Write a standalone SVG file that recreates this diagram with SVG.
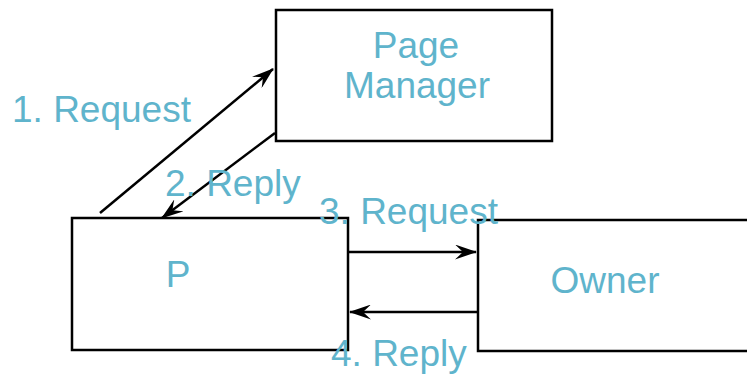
<svg xmlns="http://www.w3.org/2000/svg" width="747" height="374" viewBox="0 0 747 374">
<style>
.box{fill:#fff;stroke:#000;stroke-width:2.5}
.t{font-family:"Liberation Sans",Arial,sans-serif;font-size:37px;fill:#5fb4cc}
.c{text-anchor:middle}
.e{stroke:#000;stroke-width:2.5;fill:none;marker-end:url(#ah)}
</style>
<defs>
<marker id="ah" viewBox="0 0 22 15" refX="21" refY="7.5" markerWidth="22" markerHeight="15" markerUnits="userSpaceOnUse" orient="auto">
<path d="M0,0 L22,7.5 L0,15 L8,7.5 Z" fill="#000"/>
</marker>
</defs>
<g id="pagemanager">
<rect class="box" x="276" y="10" width="276" height="131"/>
<text class="t c" x="416" y="58">Page</text>
<text class="t c" x="417" y="98">Manager</text>
</g>
<g id="p">
<rect class="box" x="72" y="218" width="276" height="132"/>
<text class="t c" x="178" y="287">P</text>
</g>
<g id="owner">
<rect class="box" x="478" y="220" width="280" height="131"/>
<text class="t c" x="605" y="293">Owner</text>
</g>
<g id="connectors">
<line class="e" x1="100" y1="213" x2="273" y2="69"/>
<line class="e" x1="275" y1="133" x2="162" y2="218"/>
<line class="e" x1="349" y1="252" x2="476" y2="252"/>
<line class="e" x1="478" y1="312" x2="350" y2="312"/>
<text class="t" x="12" y="122">1. Request</text>
<text class="t" x="165" y="196">2. Reply</text>
<text class="t" x="319" y="224">3. Request</text>
<text class="t" x="331" y="366">4. Reply</text>
</g>
</svg>
